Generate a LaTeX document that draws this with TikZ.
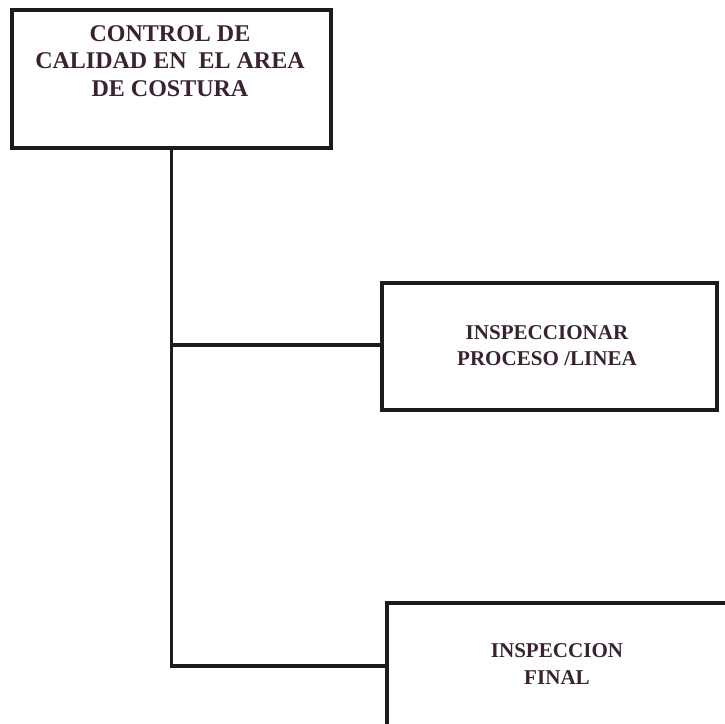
\documentclass[tikz,border=0pt]{standalone}
\usepackage{fontspec}
\setmainfont{Liberation Serif}
\usetikzlibrary{fit}
\definecolor{inkline}{HTML}{1C1C1C}
\definecolor{inktext}{HTML}{3A2232}
\tikzset{
  box/.style={draw=inkline, line width=2.5pt, inner sep=0pt, fill=white},
  wire/.style={draw=inkline, line width=2.5pt},
  caption/.style={text=inktext, align=center, font=\bfseries, inner sep=0pt},
}
\begin{document}
\begin{tikzpicture}[x=0.75pt, y=-0.75pt]
  \useasboundingbox (0,0) rectangle (725,724);
  \fill[white] (0,0) rectangle (725,724);
  \clip (0,0) rectangle (725,724);

  % boxes
  \node[box, fit={(12,10) (331,148)}] (ctrl) {};
  \node[box, fit={(382,283) (717,410)}] (insp) {};
  \node[box, fit={(387,603) (770,790)}] (fin) {};

  % captions
  \node[caption, font=\fontsize{18}{20.5}\selectfont\bfseries] (ctrltxt) at (170,61)
    {CONTROL DE\\CALIDAD EN\ \ EL AREA\\DE COSTURA};
  \node[caption, font=\fontsize{15.8}{19.5}\selectfont\bfseries] (insptxt) at (547,346)
    {INSPECCIONAR\\PROCESO /LINEA};
  \node[caption, font=\fontsize{15.8}{20.3}\selectfont\bfseries] (fintxt) at (557,664)
    {INSPECCION\\FINAL};

  % trunk and branches
  \coordinate (j1) at (ctrl.south |- 0,345);
  \coordinate (j2) at (ctrl.south |- 0,666);
  \draw[wire] (ctrl.south) -- (j2) -- (j2 -| fin.west);
  \draw[wire] (j1) -- (j1 -| insp.west);
\end{tikzpicture}
\end{document}
